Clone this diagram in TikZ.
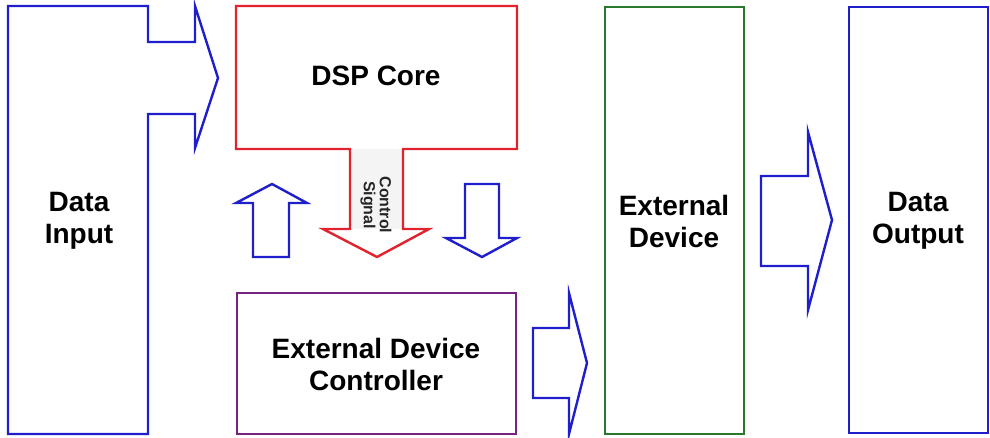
\documentclass[tikz,border=0pt]{standalone}
\usepackage{fontspec}
\setmainfont{Liberation Sans}
\definecolor{flowblue}{RGB}{30,30,205}
\definecolor{corered}{RGB}{225,35,45}
\definecolor{devgreen}{RGB}{40,120,45}
\definecolor{ctrlpurple}{RGB}{120,35,130}
\tikzset{
  outline/.style={line width=2.4pt, line join=miter},
  label/.style={font=\fontsize{28}{32}\selectfont\bfseries, align=center, text=black, inner sep=0pt},
  smalllabel/.style={font=\fontsize{16}{16}\selectfont\bfseries, align=center, text=black!85, inner sep=0pt}
}
\begin{document}
\begin{tikzpicture}[x=1pt,y=-1pt]
\useasboundingbox (0,0) rectangle (990,437);

% Data Input block with its arrow into the DSP core
\draw[outline, flowblue] (8,6) -- (148,6) -- (148,42) -- (195,42) -- (195,6)
  -- (218,78) -- (195,148) -- (195,114) -- (148,114) -- (148,434) -- (8,434) -- cycle;

% DSP Core block with the control-signal arrow
\fill[gray!9] (350,149) rectangle (403,229);
\draw[outline, corered] (236,6) -- (517,6) -- (517,149) -- (403,149) -- (403,229)
  -- (429,229) -- (377,257) -- (323,229) -- (350,229) -- (350,149) -- (236,149) -- cycle;

% small up and down arrows between core and controller
\draw[outline, flowblue] (253,257) -- (253,203) -- (236,203) -- (272,184) -- (307,203)
  -- (289,203) -- (289,257) -- cycle;
\draw[outline, flowblue] (465,184) -- (499,184) -- (499,238) -- (517,238) -- (482,257)
  -- (446,238) -- (465,238) -- cycle;

% External Device Controller
\draw[outline, ctrlpurple] (237,293) rectangle (516,434);

% arrow from the controller to the external device
\draw[outline, flowblue] (533,328) -- (569,328) -- (569,293) -- (587,363) -- (569,434)
  -- (569,398) -- (533,398) -- cycle;

% External Device
\draw[outline, devgreen] (605,7) rectangle (744,434);

% arrow from the external device to the output
\draw[outline, flowblue] (761,176) -- (808,176) -- (808,132) -- (832,220) -- (808,310)
  -- (808,266) -- (761,266) -- cycle;

% Data Output
\draw[outline, flowblue] (849,7) rectangle (988,433);

% labels
\node[label] (datain) at (79,221) {Data\\Input};
\node[label] (dsp) at (376,76) {DSP Core};
\node[smalllabel, rotate=-90] (ctrl) at (376,205) {Control\\Signal};
\node[label] (edc) at (376,364) {External Device\\Controller};
\node[label] (extdev) at (674,221) {External\\Device};
\node[label] (dataout) at (918,221) {Data\\Output};
\end{tikzpicture}
\end{document}
